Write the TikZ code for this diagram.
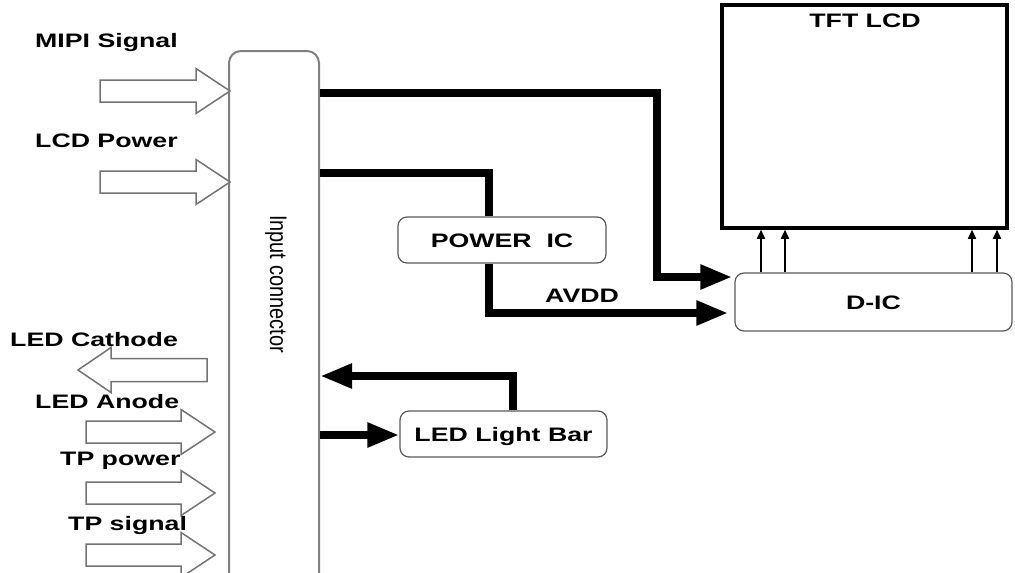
\documentclass[tikz,border=0pt]{standalone}
\usepackage{fontspec}
\setmainfont{Liberation Sans}
\usepackage{graphicx}
\usetikzlibrary{arrows.meta}
\newcommand\wide[1]{\scalebox{1.37}[1]{#1}}
\newcommand\rblk[4]{% name, tipx, tipy, shaft left x
  \draw[blk] (#4,#3-11) coordinate (#1) -- (#2-34,#3-11) -- (#2-34,#3-22.5) -- (#2,#3) -- (#2-34,#3+22.5) -- (#2-34,#3+11) -- (#4,#3+11) -- cycle;}
\newcommand\lblk[4]{% name, tipx, tipy, shaft right x
  \draw[blk] (#4,#3-11.5) coordinate (#1) -- (#2+33,#3-11.5) -- (#2+33,#3-22.5) -- (#2,#3) -- (#2+33,#3+22.5) -- (#2+33,#3+11.5) -- (#4,#3+11.5) -- cycle;}
\begin{document}
\begin{tikzpicture}[x=1pt,y=-1pt,
  lbl/.style={inner sep=0pt, anchor=base west, font=\fontsize{19.5}{20}\selectfont\bfseries},
  box/.style={draw=black!65, line width=1.2pt, rounded corners=9pt, inner sep=0pt,
    text height=14pt, text depth=0pt, font=\fontsize{19.5}{20}\selectfont\bfseries},
  bus/.style={line width=8.5pt},
  bigtip/.style={-{Triangle[length=32pt,width=23pt]}},
  blk/.style={draw=black!55, line width=1.5pt, fill=white, line join=miter},
  thinarr/.style={line width=1.6pt, -{Triangle[length=9pt,width=8pt]}}
]
\useasboundingbox (0,0) rectangle (1015,573);
\clip (0,0) rectangle (1015,573);

% input connector
\node[draw=black!50, line width=2pt, rounded corners=12pt, minimum width=90pt,
  minimum height=570pt, inner sep=0pt] (conn) at (274,336) {};
\node[rotate=-90, inner sep=0pt, font=\fontsize{20}{20}\selectfont] (connlbl) at (276,284)
  {\scalebox{1}[1.2]{Input connector}};

% TFT LCD
\node[draw, line width=3.5pt, minimum width=285pt, minimum height=223pt, inner sep=0pt]
  (tft) at (864.5,116.5) {};
\node[lbl, anchor=base] (tftlbl) at (865,27) {\wide{TFT LCD}};

% boxes
\node[box, minimum width=277pt, minimum height=58pt] (dic) at (873.5,302) {\wide{D-IC}};
\node[box, minimum width=208pt, minimum height=46pt] (pic) at (502,240) {\wide{POWER\ \ IC}};
\node[box, minimum width=207pt, minimum height=46pt] (led) at (503.5,434) {\wide{LED Light Bar}};

% bus connectors
\coordinate (b1) at (657,93);
\coordinate (b2) at (657,277);
\draw[bus,bigtip] (conn.east |- b1) -- (b1) -- (b2) -- ([xshift=-2pt]dic.west |- b2);

\coordinate (b3) at (489,173);
\draw[bus] (conn.east |- b3) -- (b3) -- (b3 |- pic.north);

\coordinate (b4) at (489,313);
\draw[bus,bigtip] (b4 |- pic.south) -- (b4) -- ([xshift=-6pt]dic.west |- b4);
\node[lbl] (avdd) at (545,302) {\wide{AVDD}};

\coordinate (b5) at (0,435);
\draw[bus,bigtip] (conn.east |- b5) -- (led.west |- b5);

\coordinate (b6) at (513,376);
\draw[bus,bigtip] (b6 |- led.north) -- (b6) -- (conn.east |- b6);

% D-IC to TFT
\foreach \x in {761,785,972,997}{
  \coordinate (tx) at (\x,250);
  \draw[thinarr] (tx |- dic.north) -- (tx |- tft.south);
}

% block arrows and labels
\rblk{a1}{230}{91}{100}
\node[lbl] (l1) at (35,47) {\wide{MIPI Signal}};
\rblk{a2}{230}{182}{100}
\node[lbl] (l2) at (35,147) {\wide{LCD Power}};
\lblk{a3}{78}{370}{207}
\node[lbl] (l3) at (10,346) {\wide{LED Cathode}};
\rblk{a4}{215}{432}{86}
\node[lbl] (l4) at (35,408) {\wide{LED Anode}};
\rblk{a5}{215}{493}{86}
\node[lbl] (l5) at (60,465) {\wide{TP power}};
\rblk{a6}{215}{555}{86}
\node[lbl] (l6) at (68,530) {\wide{TP signal}};
\end{tikzpicture}
\end{document}
